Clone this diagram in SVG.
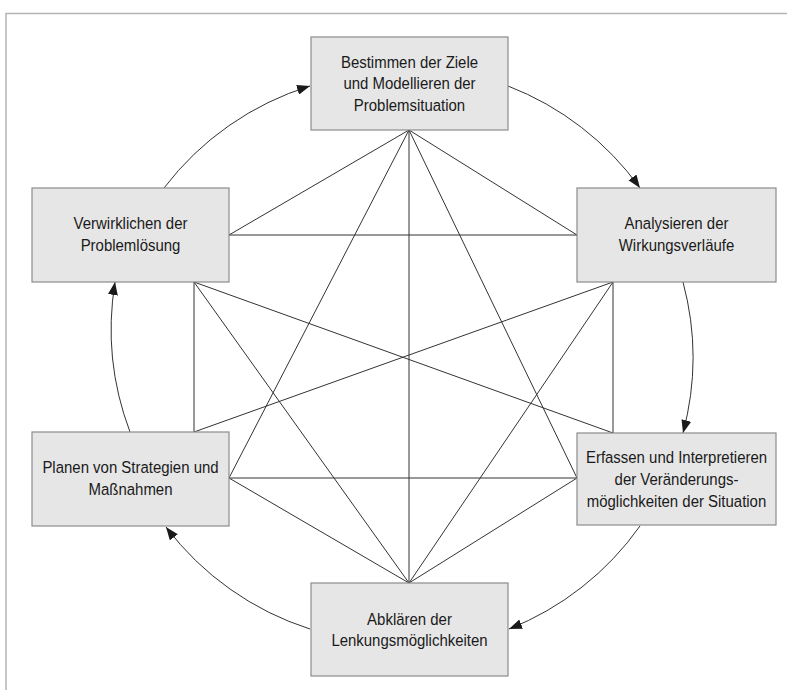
<svg xmlns="http://www.w3.org/2000/svg" width="787" height="690" viewBox="0 0 787 690">
<style>
.frame{fill:none;stroke:#b4b4b4;stroke-width:1.5}
.box{fill:#e6e6e6;stroke:#8c8c8c;stroke-width:1.2}
.t{font-family:"Liberation Sans",Arial,sans-serif;font-size:17px;fill:#1a1a1a;text-anchor:middle}
.ln{stroke:#333;stroke-width:1;fill:none}
.arc{stroke:#333;stroke-width:1;fill:none;marker-end:url(#ah)}
</style>
<defs>
<marker id="ah" markerUnits="userSpaceOnUse" markerWidth="14" markerHeight="10" refX="13" refY="5" orient="auto">
<path d="M0,0 L13,5 L0,10 z" fill="#1a1a1a"/>
</marker>
</defs>
<rect width="787" height="690" fill="#fff"/>
<path class="frame" d="M6,690 L6,13.5 L787,13.5"/>
<g id="connectors">
<line class="ln" x1="409" y1="130" x2="229" y2="235"/>
<line class="ln" x1="409" y1="130" x2="577" y2="235"/>
<line class="ln" x1="409" y1="130" x2="229" y2="478"/>
<line class="ln" x1="409" y1="130" x2="577" y2="478"/>
<line class="ln" x1="409" y1="130" x2="409" y2="583"/>
<line class="ln" x1="409" y1="583" x2="229" y2="478"/>
<line class="ln" x1="409" y1="583" x2="577" y2="478"/>
<line class="ln" x1="409" y1="583" x2="194" y2="282"/>
<line class="ln" x1="409" y1="583" x2="613" y2="282"/>
<line class="ln" x1="229" y1="235" x2="577" y2="235"/>
<line class="ln" x1="229" y1="478" x2="577" y2="478"/>
<line class="ln" x1="194" y1="282" x2="194" y2="432"/>
<line class="ln" x1="613" y1="282" x2="613" y2="433"/>
<line class="ln" x1="194" y1="282" x2="613" y2="433"/>
<line class="ln" x1="613" y1="282" x2="194" y2="432"/>
<path class="arc" d="M164,188 A292,292 0 0 1 310,86"/>
<path class="arc" d="M508,86 A292,292 0 0 1 640,188"/>
<path class="arc" d="M683,282 A292,292 0 0 1 683,433"/>
<path class="arc" d="M640,526 A292,292 0 0 1 509,629"/>
<path class="arc" d="M310,629 A292,292 0 0 1 166,527"/>
<path class="arc" d="M130,432 A292,292 0 0 1 115,282"/>
</g>
<g id="n1">
<rect class="box" x="311" y="37" width="197" height="93"/>
<text class="t" transform="translate(409.5 67.5) scale(0.88 1)">Bestimmen der Ziele</text>
<text class="t" transform="translate(409.5 89) scale(0.88 1)">und Modellieren der</text>
<text class="t" transform="translate(409.5 111) scale(0.88 1)">Problemsituation</text>
</g>
<g id="n2">
<rect class="box" x="577" y="188" width="199" height="94"/>
<text class="t" transform="translate(676.5 229) scale(0.88 1)">Analysieren der</text>
<text class="t" transform="translate(676.5 251) scale(0.88 1)">Wirkungsverläufe</text>
</g>
<g id="n3">
<rect class="box" x="577" y="433" width="199" height="92"/>
<text class="t" transform="translate(676.5 463) scale(0.88 1)">Erfassen und Interpretieren</text>
<text class="t" transform="translate(676.5 485) scale(0.88 1)">der Veränderungs-</text>
<text class="t" transform="translate(676.5 506.5) scale(0.88 1)">möglichkeiten der Situation</text>
</g>
<g id="n4">
<rect class="box" x="311" y="583" width="197" height="93"/>
<text class="t" transform="translate(409.5 625) scale(0.88 1)">Abklären der</text>
<text class="t" transform="translate(409.5 646) scale(0.88 1)">Lenkungsmöglichkeiten</text>
</g>
<g id="n5">
<rect class="box" x="32" y="432" width="197" height="94"/>
<text class="t" transform="translate(130.5 473) scale(0.88 1)">Planen von Strategien und</text>
<text class="t" transform="translate(130.5 495) scale(0.88 1)">Maßnahmen</text>
</g>
<g id="n6">
<rect class="box" x="32" y="188" width="197" height="94"/>
<text class="t" transform="translate(130.5 229) scale(0.88 1)">Verwirklichen der</text>
<text class="t" transform="translate(130.5 251) scale(0.88 1)">Problemlösung</text>
</g>
</svg>
